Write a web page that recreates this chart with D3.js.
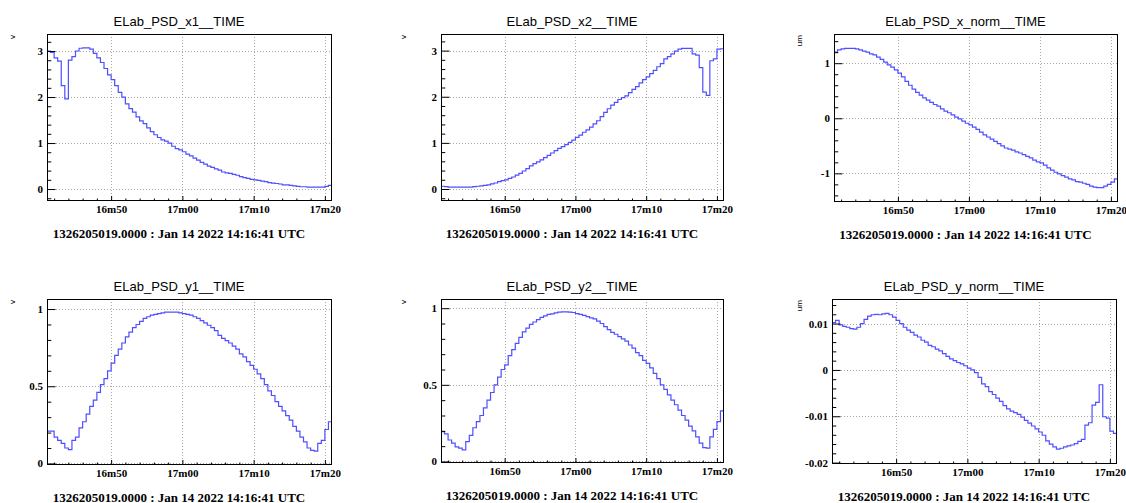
<!DOCTYPE html>
<html><head><meta charset="utf-8">
<script src="https://cdn.jsdelivr.net/npm/d3@7"></script>
<style>body{margin:0;background:#fff}svg{display:block;background:#fff}</style>
</head><body>
<svg id="c" width="1126" height="503"></svg>
<script>
// ---------- data ----------
const startTimeMs = Date.UTC(2022, 0, 14, 14, 16, 41);
const dateLabel = "1326205019.0000 : Jan 14 2022 14:16:41 UTC";
const titles = ["ELab_PSD_x1__TIME", "ELab_PSD_x2__TIME", "ELab_PSD_x_norm__TIME",
                "ELab_PSD_y1__TIME", "ELab_PSD_y2__TIME", "ELab_PSD_y_norm__TIME"];
const units = ["v", "v", "um", "v", "v", "um"];

// sample times, seconds after 14:16:41
const tSec = [0,0.5,1,1.5,2,2.5,3,3.5,4,4.5,5,5.5,6,6.5,7,7.5,8,8.5,9,9.5,
  10,10.5,11,11.5,12,12.5,13,13.5,14,14.5,15,15.5,16,16.5,17,17.5,18,18.5,19,19.5,
  20,20.5,21,21.5,22,22.5,23,23.5,24,24.5,25,25.5,26,26.5,27,27.5,28,28.5,29,29.5,
  30,30.5,31,31.5,32,32.5,33,33.5,34,34.5,35,35.5,36,36.5,37,37.5,38,38.5,39,39.5,40];

const psdX1 = [3.00,2.97,2.85,2.78,2.25,1.96,2.80,2.88,3.00,3.06,3.07,3.07,3.04,2.95,2.85,2.75,2.62,2.48,2.38,2.25,
  2.10,2.00,1.85,1.75,1.67,1.57,1.48,1.42,1.33,1.25,1.18,1.12,1.07,1.04,1.00,0.93,0.88,0.85,0.81,0.76,
  0.72,0.67,0.63,0.58,0.54,0.50,0.47,0.44,0.41,0.37,0.35,0.34,0.32,0.30,0.27,0.25,0.23,0.21,0.20,0.19,
  0.17,0.16,0.14,0.13,0.12,0.11,0.09,0.09,0.08,0.07,0.06,0.05,0.05,0.04,0.04,0.04,0.04,0.04,0.06,0.08,0.10];

const psdX2 = [0.06,0.05,0.04,0.04,0.04,0.04,0.04,0.04,0.04,0.05,0.06,0.07,0.08,0.09,0.11,0.13,0.16,0.18,0.20,0.23,
  0.26,0.30,0.34,0.39,0.44,0.50,0.55,0.59,0.63,0.68,0.73,0.78,0.83,0.88,0.92,0.96,1.01,1.06,1.12,1.17,
  1.23,1.28,1.34,1.41,1.48,1.57,1.66,1.74,1.82,1.88,1.94,1.98,2.02,2.09,2.16,2.22,2.30,2.37,2.43,2.50,
  2.57,2.65,2.72,2.82,2.87,2.93,2.99,3.03,3.05,3.05,3.05,2.93,2.90,2.63,2.10,2.03,2.78,2.82,3.03,3.04,2.99];

const psdXNorm = [1.20,1.24,1.26,1.27,1.27,1.27,1.26,1.24,1.22,1.20,1.17,1.15,1.11,1.07,1.02,0.97,0.93,0.88,0.82,0.75,
  0.67,0.60,0.53,0.47,0.42,0.37,0.33,0.29,0.25,0.22,0.17,0.13,0.10,0.06,0.02,-0.01,-0.05,-0.09,-0.12,-0.16,
  -0.20,-0.25,-0.30,-0.34,-0.38,-0.42,-0.46,-0.50,-0.54,-0.56,-0.58,-0.61,-0.63,-0.66,-0.69,-0.72,-0.76,-0.79,-0.81,-0.85,
  -0.90,-0.94,-0.98,-1.01,-1.04,-1.07,-1.10,-1.12,-1.15,-1.16,-1.18,-1.20,-1.23,-1.25,-1.26,-1.26,-1.23,-1.20,-1.16,-1.10,-1.08];

const psdY1 = [0.21,0.21,0.17,0.15,0.13,0.10,0.09,0.15,0.17,0.23,0.27,0.32,0.37,0.41,0.46,0.51,0.55,0.60,0.65,0.70,
  0.74,0.78,0.82,0.85,0.88,0.90,0.92,0.94,0.95,0.96,0.965,0.97,0.975,0.98,0.98,0.98,0.98,0.975,0.97,0.965,
  0.96,0.95,0.94,0.925,0.91,0.895,0.88,0.86,0.83,0.81,0.795,0.78,0.76,0.74,0.71,0.69,0.66,0.635,0.61,0.58,
  0.55,0.51,0.47,0.44,0.40,0.37,0.34,0.31,0.28,0.24,0.21,0.17,0.14,0.10,0.085,0.08,0.13,0.15,0.22,0.27,0.32];

const psdY2 = [0.195,0.18,0.14,0.12,0.095,0.087,0.075,0.13,0.17,0.22,0.26,0.30,0.35,0.40,0.45,0.50,0.55,0.60,0.63,0.69,
  0.73,0.77,0.81,0.845,0.87,0.895,0.91,0.925,0.94,0.95,0.96,0.963,0.97,0.974,0.976,0.976,0.974,0.972,0.965,0.96,
  0.953,0.945,0.937,0.93,0.915,0.90,0.88,0.86,0.842,0.83,0.815,0.80,0.785,0.76,0.74,0.71,0.69,0.66,0.64,0.61,
  0.575,0.54,0.50,0.47,0.435,0.40,0.37,0.335,0.30,0.27,0.23,0.20,0.16,0.12,0.09,0.087,0.16,0.21,0.26,0.33,0.35];

const psdYNorm = [0.0102,0.0107,0.0097,0.0094,0.0092,0.0089,0.0088,0.0092,0.0100,0.0109,0.0116,0.0119,0.0120,0.0119,0.0121,0.0122,0.0119,0.0114,0.0107,0.0100,
  0.0092,0.0086,0.0081,0.0075,0.0071,0.0064,0.0060,0.0053,0.0050,0.0045,0.0041,0.0035,0.0029,0.0024,0.0020,0.0016,0.0013,0.0009,0.0004,0.0000,
  -0.0006,-0.0016,-0.0030,-0.0036,-0.0047,-0.0053,-0.0061,-0.0068,-0.0077,-0.0084,-0.0089,-0.0092,-0.0096,-0.0102,-0.0109,-0.0115,-0.0121,-0.0127,-0.0134,-0.0141,
  -0.0153,-0.0160,-0.0166,-0.0171,-0.0169,-0.0166,-0.0164,-0.0162,-0.0159,-0.0154,-0.0150,-0.0119,-0.0114,-0.0076,-0.0070,-0.0032,-0.0101,-0.0104,-0.0132,-0.0137,-0.0145];

const seriesList = [psdX1, psdX2, psdXNorm, psdY1, psdY2, psdYNorm];
const yDomains = [[-0.26, 3.37], [-0.26, 3.36], [-1.52, 1.53], [-0.01, 1.065], [-0.01, 1.06], [-0.0203, 0.0153]];
const yMajorStep = [1, 1, 1, 0.5, 0.5, 0.01];
const yMinorStep = [0.2, 0.2, 0.2, 0.1, 0.1, 0.002];
const xMajorSec = 10, xMinorSec = 2;

// ---------- layout ----------
const frames = [
  {l: 47,  r: 332,  t: 34,  b: 201, ux: 15},
  {l: 441, r: 724,  t: 34,  b: 201, ux: 406},
  {l: 834, r: 1118, t: 34,  b: 202, ux: 801.5},
  {l: 47,  r: 332,  t: 299, b: 465, ux: 15},
  {l: 441, r: 724,  t: 299, b: 463, ux: 406},
  {l: 832, r: 1117, t: 299, b: 464, ux: 801.5}
];

const svg = d3.select("#c");
const fmtNum = v => String(+v.toFixed(6));
function stepTicks(dom, step) {
  const out = [];
  const k0 = Math.ceil(dom[0] / step - 1e-9), k1 = Math.floor(dom[1] / step + 1e-9);
  for (let k = k0; k <= k1; k++) out.push(+(k * step).toFixed(8));
  return out;
}

seriesList.forEach((vals, i) => {
  const F = frames[i];
  const x = d3.scaleUtc()
    .domain([new Date(startTimeMs + tSec[0] * 1000), new Date(startTimeMs + tSec[tSec.length - 1] * 1000)])
    .range([F.l, F.r]);
  const y = d3.scaleLinear().domain(yDomains[i]).range([F.b, F.t]);
  const g = svg.append("g");

  const xMaj = x.ticks(d3.utcSecond.every(xMajorSec));
  const xMin = x.ticks(d3.utcSecond.every(xMinorSec)).filter(d => d.getUTCSeconds() % xMajorSec !== 0);
  const yMaj = stepTicks(yDomains[i], yMajorStep[i]);
  const yMin = stepTicks(yDomains[i], yMinorStep[i]).filter(v => !yMaj.some(m => Math.abs(m - v) < 1e-9));

  // grid
  g.append("g").selectAll("line").data(xMaj).join("line")
    .attr("x1", d => Math.round(x(d)) + 0.5).attr("x2", d => Math.round(x(d)) + 0.5)
    .attr("y1", F.t).attr("y2", F.b)
    .attr("stroke", "#a8a8a8").attr("stroke-dasharray", "1,2");
  g.append("g").selectAll("line").data(yMaj).join("line")
    .attr("y1", d => Math.round(y(d)) + 0.5).attr("y2", d => Math.round(y(d)) + 0.5)
    .attr("x1", F.l).attr("x2", F.r)
    .attr("stroke", "#a8a8a8").attr("stroke-dasharray", "1,2");

  // line
  const cid = "clip" + i;
  svg.append("clipPath").attr("id", cid).append("rect")
    .attr("x", F.l).attr("y", F.t).attr("width", F.r - F.l).attr("height", F.b - F.t);
  const line = d3.line()
    .x((d, j) => x(new Date(startTimeMs + tSec[j] * 1000)))
    .y(d => y(d))
    .curve(d3.curveStepAfter);
  g.append("path").datum(vals)
    .attr("clip-path", `url(#${cid})`)
    .attr("d", line)
    .attr("fill", "none").attr("stroke", "#4f4fff").attr("stroke-width", 1.2);

  // axes
  const xAx = g.append("g").attr("transform", `translate(0,${F.b})`)
    .call(d3.axisBottom(x).tickValues(xMaj).tickSize(-5).tickPadding(4).tickFormat(d3.utcFormat("%Mm%S")));
  g.append("g").attr("transform", `translate(0,${F.b})`)
    .call(d3.axisBottom(x).tickValues(xMin).tickSize(-2.5).tickFormat(""));
  const yAx = g.append("g").attr("transform", `translate(${F.l},0)`)
    .call(d3.axisLeft(y).tickValues(yMaj).tickSize(-8.5).tickPadding(4).tickFormat(fmtNum));
  g.append("g").attr("transform", `translate(${F.l},0)`)
    .call(d3.axisLeft(y).tickValues(yMin).tickSize(-4.3).tickFormat(""));
  g.selectAll(".domain").remove();
  g.selectAll(".tick line").attr("stroke", "#000");
  g.selectAll(".tick text")
    .attr("font-family", "'Liberation Serif', 'Times New Roman', serif")
    .attr("font-weight", "bold").attr("font-size", 11).attr("fill", "#000");

  // frame
  g.append("rect")
    .attr("x", F.l + 0.5).attr("y", F.t + 0.5)
    .attr("width", F.r - F.l - 1).attr("height", F.b - F.t - 1)
    .attr("fill", "none").attr("stroke", "#000").attr("stroke-width", 1);

  const cx = (F.l + F.r) / 2 - 10.5;
  g.append("text").attr("x", cx).attr("y", F.t - 8)
    .attr("text-anchor", "middle")
    .attr("font-family", "'Liberation Sans', Arial, sans-serif").attr("font-size", 13)
    .text(titles[i]);
  g.append("text").attr("x", cx).attr("y", F.b + 36.5)
    .attr("text-anchor", "middle")
    .attr("font-family", "'Liberation Serif', 'Times New Roman', serif")
    .attr("font-weight", "bold").attr("font-size", 13)
    .text(dateLabel);
  g.append("text")
    .attr("transform", `translate(${F.ux},${F.t + 1}) rotate(-90)`)
    .attr("text-anchor", "end")
    .attr("font-family", "'Liberation Sans', Arial, sans-serif").attr("font-size", 8)
    .text(units[i]);
});
</script>
</body></html>
